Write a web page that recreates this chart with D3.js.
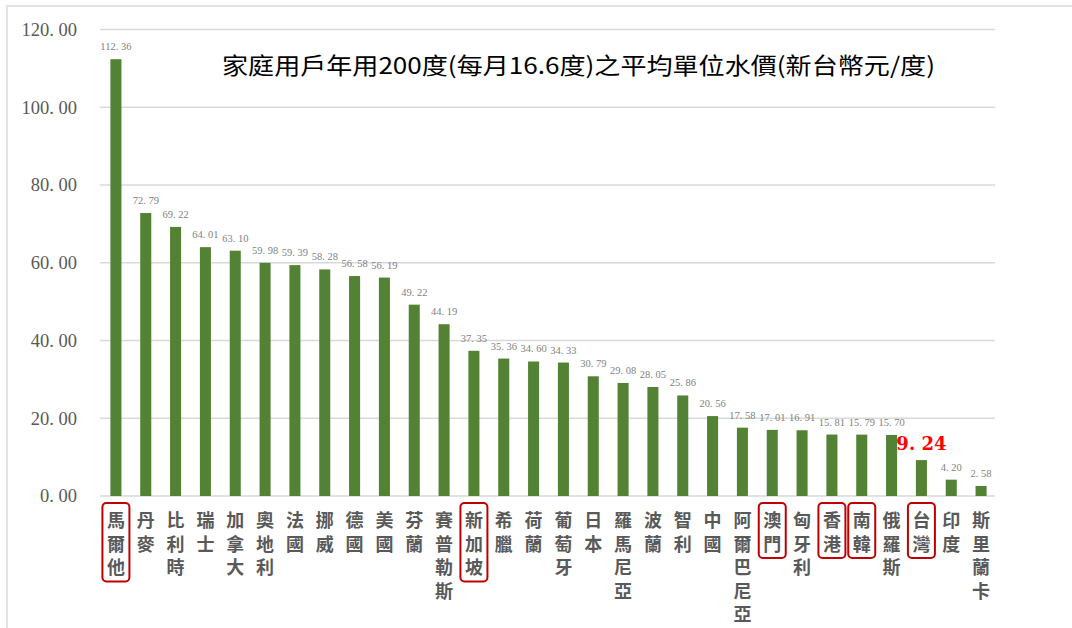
<!DOCTYPE html>
<html>
<head>
<meta charset="utf-8">
<title>家庭用戶平均單位水價</title>
<script src="https://cdn.jsdelivr.net/npm/d3@7"></script>
<style>
  html, body { margin: 0; background: #fff; }
  .grid line { stroke: #d9d9d9; stroke-width: 1.5; }
  .tick-label { font: 18.5px "Liberation Serif", serif; fill: #595959; }
  .val { font: 10.5px "Liberation Serif", serif; fill: #7f7f7f; }
  .cat { font: 700 18px "Noto Sans CJK TC", sans-serif; fill: #595959; }
</style>
</head>
<body>
<svg width="1072" height="628"></svg>
<script>
// data
var countries = ["馬爾他","丹麥","比利時","瑞士","加拿大","奧地利","法國","挪威","德國","美國",
  "芬蘭","賽普勒斯","新加坡","希臘","荷蘭","葡萄牙","日本","羅馬尼亞","波蘭","智利",
  "中國","阿爾巴尼亞","澳門","匈牙利","香港","南韓","俄羅斯","台灣","印度","斯里蘭卡"];
var prices = [112.36,72.79,69.22,64.01,63.10,59.98,59.39,58.28,56.58,56.19,
  49.22,44.19,37.35,35.36,34.60,34.33,30.79,29.08,28.05,25.86,
  20.56,17.58,17.01,16.91,15.81,15.79,15.70,9.24,4.20,2.58];
var boxed = ["馬爾他","新加坡","澳門","香港","南韓","台灣"];
var highlight = "台灣";
var yTicks = [0,20,40,60,80,100,120];
var title = "家庭用戶年用200度(每月16.6度)之平均單位水價(新台幣元/度)";

var svg = d3.select("svg");

// outer frame
svg.append("rect")
    .attr("x", 7).attr("y", 6)
    .attr("width", 1100).attr("height", 660)
    .attr("fill", "none")
    .attr("stroke", "#e3e3e3")
    .attr("stroke-width", 2);

var x = d3.scaleBand()
    .domain(countries)
    .range([101, 996])
    .paddingInner(0.63)
    .paddingOuter(0.315);

var y = d3.scaleLinear().domain([0, 120]).range([496, 29.5]);

// gridlines
svg.append("g").attr("class", "grid")
  .selectAll("line")
  .data(yTicks)
  .enter().append("line")
    .attr("x1", 100).attr("x2", 995)
    .attr("y1", function(d) { return y(d); })
    .attr("y2", function(d) { return y(d); });

svg.append("g")
  .selectAll("text")
  .data(yTicks)
  .enter().append("text")
    .attr("class", "tick-label")
    .attr("x", 77)
    .attr("y", function(d) { return y(d); })
    .attr("dy", "0.35em")
    .attr("text-anchor", "end")
    .text(function(d) { return d3.format(".2f")(d).replace(".", ". "); });

// bars
svg.append("g")
  .selectAll("rect")
  .data(countries)
  .enter().append("rect")
    .attr("x", function(d) { return x(d); })
    .attr("width", x.bandwidth())
    .attr("y", function(d, i) { return y(prices[i]); })
    .attr("height", function(d, i) { return y(0) - y(prices[i]); })
    .attr("fill", "#548235");

// value labels
svg.append("g")
  .selectAll("text")
  .data(countries)
  .enter().append("text")
    .attr("x", function(d) { return x(d) + x.bandwidth() / 2; })
    .attr("y", function(d, i) { return y(prices[i]) - (d == highlight ? 10 : 9); })
    .attr("text-anchor", "middle")
    .attr("class", function(d) { return d == highlight ? "" : "val"; })
    .style("font", function(d) { return d == highlight ? "700 18px 'DejaVu Serif', serif" : null; })
    .style("fill", function(d) { return d == highlight ? "#ff0000" : null; })
    .text(function(d, i) { return d3.format(".2f")(prices[i]).replace(".", ". "); });

// category labels, one character per line
var lineH = 23.5;
var cats = svg.append("g")
  .selectAll("g")
  .data(countries)
  .enter().append("g")
    .attr("transform", function(d) { return "translate(" + (x(d) + x.bandwidth() / 2) + ",0)"; });

cats.filter(function(d) { return boxed.indexOf(d) >= 0; })
  .append("rect")
    .attr("x", -13.5)
    .attr("y", 503)
    .attr("width", 27)
    .attr("height", function(d) { return d.length * lineH + 8; })
    .attr("rx", 4)
    .attr("fill", "none")
    .attr("stroke", "#c00000")
    .attr("stroke-width", 2);

cats.append("text")
    .attr("class", "cat")
    .attr("text-anchor", "middle")
  .selectAll("tspan")
  .data(function(d) { return d.split(""); })
  .enter().append("tspan")
    .attr("x", 0)
    .attr("y", function(c, i) { return 527 + i * lineH; })
    .text(function(c) { return c; });

// title
svg.append("text")
    .attr("x", 222).attr("y", 74)
    .attr("textLength", 713)
    .attr("lengthAdjust", "spacingAndGlyphs")
    .style("font", "23px 'Noto Sans CJK TC', serif")
    .style("fill", "#000")
    .text(title);
</script>
</body>
</html>
